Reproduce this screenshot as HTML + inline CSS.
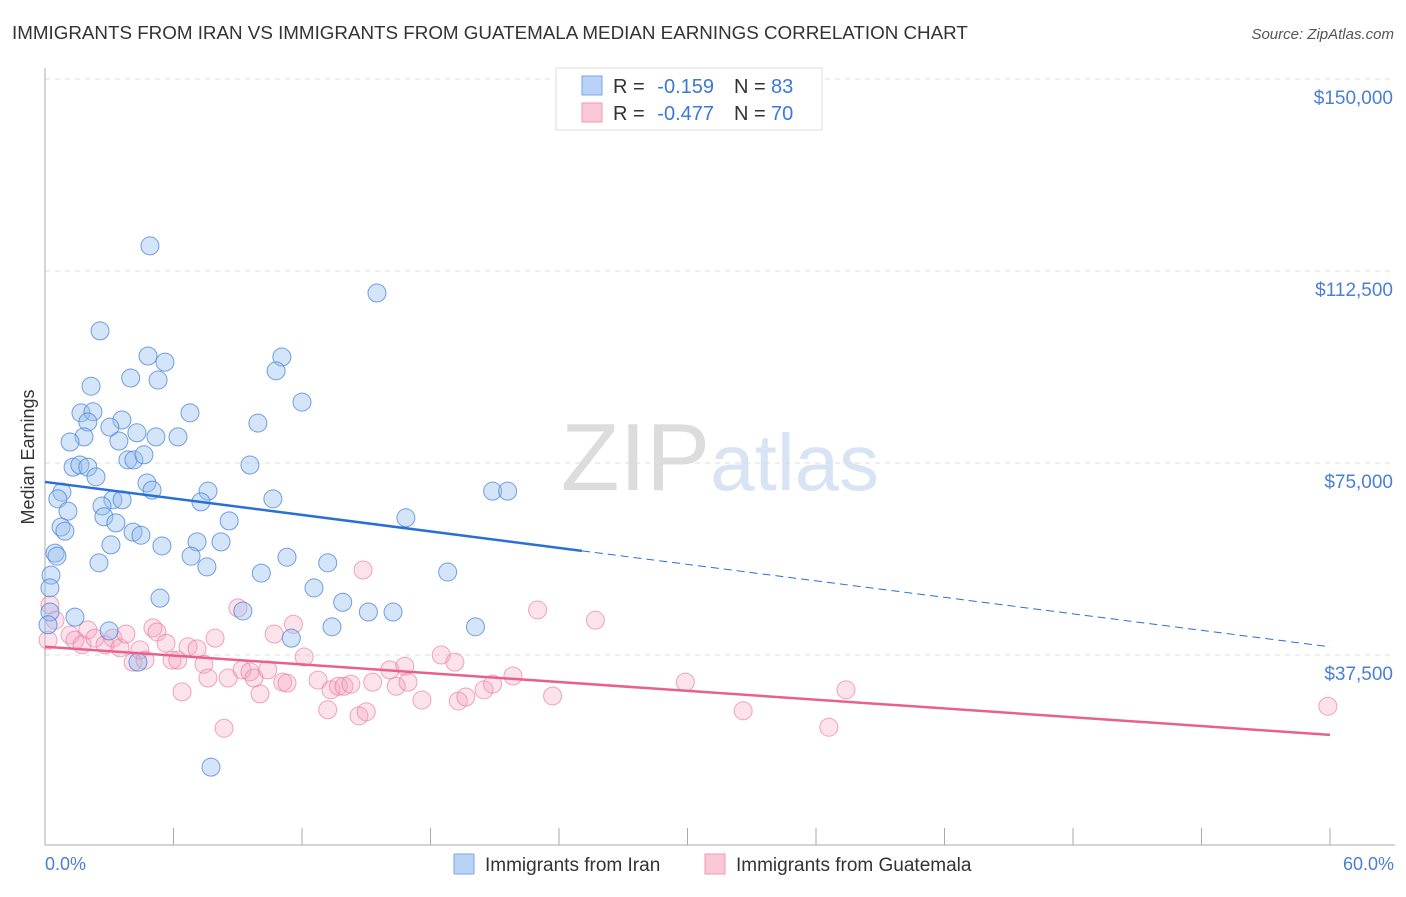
<!DOCTYPE html>
<html><head><meta charset="utf-8"><style>
body{margin:0;background:#fff;font-family:"Liberation Sans",sans-serif}
svg text{font-family:"Liberation Sans",sans-serif}
</style></head><body>
<svg id="chart" width="1406" height="892" viewBox="0 0 1406 892" xmlns="http://www.w3.org/2000/svg">
<text x="12" y="39" font-size="18.8" fill="#333">IMMIGRANTS FROM IRAN VS IMMIGRANTS FROM GUATEMALA MEDIAN EARNINGS CORRELATION CHART</text>
<text x="1394" y="39" font-size="15" fill="#555" text-anchor="end" font-style="italic">Source: ZipAtlas.com</text>
<text x="720" y="490" font-size="96" text-anchor="middle" fill="#e6e6e6" font-family="Liberation Serif"><tspan fill="#dcdcdc">ZIP</tspan><tspan fill="#d8e4f4" font-family="Liberation Sans" font-size="80">atlas</tspan></text>
<g id="grid"></g>
<g id="axes"></g>
<g id="pts"></g>
<g id="trends"></g>
<text transform="translate(34,457) rotate(-90)" font-size="18" fill="#333" text-anchor="middle">Median Earnings</text>
<text x="45" y="870" font-size="18" fill="#4a7fd4">0.0%</text>
<text x="1394" y="870" font-size="18" fill="#4a7fd4" text-anchor="end">60.0%</text>
<g>
<rect x="556" y="68" width="266" height="62" fill="#fff" stroke="#ddd"/>
<rect x="582" y="76" width="20" height="19" fill="#b8d3f6" stroke="#7aa7e3"/>
<rect x="582" y="103" width="20" height="19" fill="#fbc8d8" stroke="#f099b5"/>
<text x="613" y="93" font-size="20" fill="#333">R =</text>
<text x="714" y="93" font-size="20" fill="#3b78d8" text-anchor="end">-0.159</text>
<text x="734" y="93" font-size="20" fill="#333">N =</text>
<text x="771" y="93" font-size="20" fill="#3b78d8">83</text>
<text x="613" y="120" font-size="20" fill="#333">R =</text>
<text x="714" y="120" font-size="20" fill="#3b78d8" text-anchor="end">-0.477</text>
<text x="734" y="120" font-size="20" fill="#333">N =</text>
<text x="771" y="120" font-size="20" fill="#3b78d8">70</text>
</g>
<g>
<rect x="454" y="854" width="20" height="20" fill="#b8d3f6" stroke="#7aa7e3"/>
<text x="485" y="871" font-size="19" fill="#333">Immigrants from Iran</text>
<rect x="705" y="854" width="20" height="20" fill="#fbc8d8" stroke="#f099b5"/>
<text x="736" y="871" font-size="19" fill="#333">Immigrants from Guatemala</text>
</g>
</svg>
<script>
const yTicks=[37500,75000,112500,150000];
const yTickLabels=["$37,500","$75,000","$112,500","$150,000"];
const iranX=[4.9,15.5,2.57,4.81,5.6,11.06,10.79,4.0,5.28,2.15,12.0,1.68,2.24,6.77,3.59,2.0,9.94,3.03,4.29,1.82,5.18,6.21,1.17,3.45,3.87,4.15,4.62,9.57,1.31,1.63,2.0,2.38,4.76,5.0,0.79,7.61,20.9,21.6,0.6,3.17,3.6,10.64,7.28,2.66,1.07,2.75,3.31,8.6,16.85,0.75,0.93,4.11,4.48,7.1,8.22,3.08,5.46,0.47,0.56,6.82,11.3,2.52,13.2,7.56,10.1,18.8,0.28,0.23,12.56,5.37,13.9,9.24,15.1,16.25,0.23,1.4,0.14,13.4,20.1,2.99,11.5,4.34,7.75];
const iranY=[117.4,108.2,100.8,95.9,94.7,95.7,93.0,91.6,91.2,90.0,86.9,84.8,85.0,84.8,83.4,83.0,82.8,82.0,80.9,80.1,80.1,80.1,79.1,79.3,75.6,75.6,76.6,74.6,74.2,74.6,74.2,72.3,71.1,69.7,69.3,69.5,69.5,69.5,68.0,67.8,67.8,68.0,67.4,66.6,65.6,64.5,63.3,63.7,64.3,62.5,61.7,61.5,60.9,59.6,59.6,59.0,58.8,57.4,56.8,56.8,56.6,55.5,55.5,54.7,53.5,53.7,53.1,50.6,50.6,48.6,47.8,46.1,45.9,45.9,45.9,44.9,43.4,43.0,43.0,42.2,40.8,36.1,15.6];
const guatX=[0.23,0.47,0.14,1.17,2.0,1.4,1.73,2.33,2.8,3.17,3.5,3.78,4.11,4.43,4.67,5.04,5.23,5.65,5.93,6.2,6.4,6.68,7.1,7.42,7.61,7.94,8.36,8.55,9.01,9.2,9.57,9.76,10.04,10.4,10.7,11.1,11.3,11.6,12.1,12.75,13.2,13.35,13.7,13.96,14.28,14.66,14.85,15.0,15.3,16.1,16.4,16.8,16.95,17.6,18.5,19.14,19.3,19.65,20.5,20.9,21.85,23.0,23.7,25.7,29.9,32.6,36.6,37.4,59.9];
const guatY=[47.3,44.3,40.4,41.4,42.4,40.4,39.5,40.8,39.5,40.8,38.9,41.6,36.1,38.5,36.5,42.8,42.0,39.8,36.5,36.5,30.3,39.1,38.7,35.7,33.0,40.8,23.2,33.0,46.7,34.6,34.2,33.0,29.9,34.6,41.6,32.2,32.0,43.5,37.1,32.6,26.8,30.7,31.4,31.4,31.8,25.6,54.1,26.4,32.2,34.6,31.4,35.3,32.2,28.7,37.5,36.1,28.5,29.3,30.7,31.8,33.4,46.3,29.5,44.3,32.2,26.6,23.4,30.7,27.5];
const iranTrend=[71.3,39.1], iranSolidEnd=25.07;
const guatTrend=[39.1,21.9];
const NS="http://www.w3.org/2000/svg";
const X=p=>45+p*(1285/60);
function Yv(v){return 847-v*(768/150000);}
function mk(t,a,parent){const e=document.createElementNS(NS,t);for(const k in a)e.setAttribute(k,a[k]);document.getElementById(parent).appendChild(e);return e;}
yTicks.forEach((v,i)=>{
 const l=mk('line',{x1:45,x2:1395,y1:Yv(v),y2:Yv(v),stroke:'#ddd','stroke-dasharray':'5,5'},'grid');
 
 
 const t=mk('text',{x:1393,y:Yv(v)+25,'font-size':19,fill:'#4a7fd4','text-anchor':'end'},'grid');
 t.textContent=yTickLabels[i];
 
 
});
const ax=mk('line',{x1:45,x2:45,y1:68,y2:845,stroke:'#aaa'},'axes');


const bx=mk('line',{x1:45,x2:1395,y1:845,y2:845,stroke:'#aaa'},'axes');


for(let i=0;i<=10;i++){const t=mk('line',{x1:X(i*6),x2:X(i*6),y1:828,y2:845,stroke:'#aaa'},'axes');
 
 }
guatX.forEach((x,i)=>{const c=mk('circle',{cx:X(x),cy:Yv(guatY[i]*1000),r:9,fill:'rgba(246,160,188,0.3)',stroke:'rgba(232,120,160,0.65)','stroke-width':1},'pts');
 
 });
iranX.forEach((x,i)=>{const c=mk('circle',{cx:X(x),cy:Yv(iranY[i]*1000),r:9,fill:'rgba(150,190,240,0.4)',stroke:'rgba(70,130,215,0.75)','stroke-width':1},'pts');
 
 });
const iy=p=>iranTrend[0]+(iranTrend[1]-iranTrend[0])*p/60;
let l1=mk('line',{x1:X(0),y1:Yv(iy(0)*1000),x2:X(iranSolidEnd),y2:Yv(iy(iranSolidEnd)*1000),stroke:'#2a6fd6','stroke-width':2.5},'trends');


let l2=mk('line',{x1:X(iranSolidEnd),y1:Yv(iy(iranSolidEnd)*1000),x2:X(60),y2:Yv(iy(60)*1000),stroke:'#2a6fd6','stroke-width':1,'stroke-dasharray':'8,5'},'trends');


let l3=mk('line',{x1:X(0),y1:Yv(guatTrend[0]*1000),x2:X(60),y2:Yv(guatTrend[1]*1000),stroke:'#e8608e','stroke-width':2.5},'trends');


</script>
</body></html>
